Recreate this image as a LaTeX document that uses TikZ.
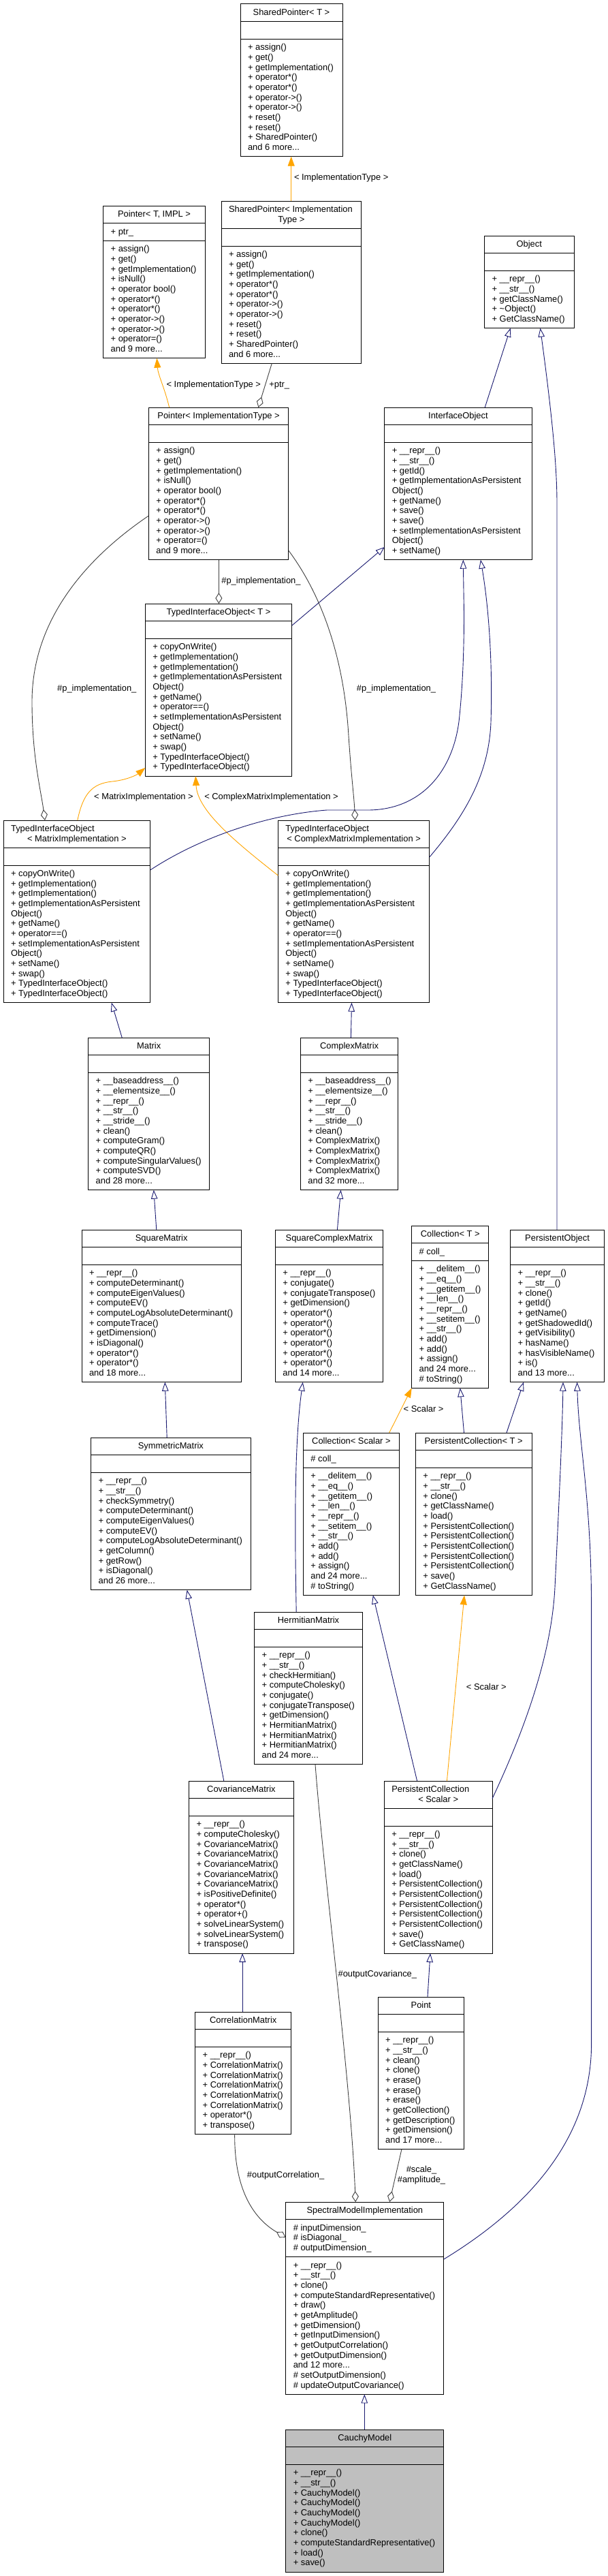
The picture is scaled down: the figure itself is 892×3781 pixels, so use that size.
\documentclass[tikz,border=0pt]{standalone}
\usepackage{fontspec}
\setmainfont{Liberation Sans}
\usetikzlibrary{arrows.meta,calc}
\definecolor{inhblue}{HTML}{191970}
\definecolor{tmplorange}{HTML}{FFA500}
\definecolor{agggray}{HTML}{404040}
\definecolor{hlgray}{HTML}{BFBFBF}
\newcommand{\dxfont}{\fontsize{12.9}{14.67}\selectfont}
\newcommand{\threedots}{...}
\def\bxfill{white}
\tikzset{
  txt/.style={inner sep=0pt, outer sep=0pt, font=\dxfont},
  lbl/.style={txt, anchor=base west},
  box/.style={draw=black, line width=1pt, inner sep=0pt, outer sep=0pt, anchor=north west},
  divl/.style={draw=black, line width=1pt},
  inh/.style={draw=inhblue, line width=0.9pt, -{Triangle[open, length=13pt, width=9.5pt]}},
  tmpl/.style={draw=tmplorange, line width=0.9pt, -{Triangle[length=14pt, width=10pt]}},
  agg/.style={draw=agggray, line width=0.9pt, -{Diamond[open, length=16pt, width=10pt]}},
}
% #1 name, #2 x, #3 top, #4 width, #5 title lines, #6 n attr, #7 attrs, #8 n meth, #9 meths
\newcommand{\umlbox}[9]{%
  \def\tcount{0}%
  \foreach \itm [count=\cnt] in {#5} {\xdef\tcount{\cnt}}%
  \pgfmathsetmacro{\bxT}{\tcount*14.67+11}%
  \pgfmathsetmacro{\bxA}{max(#6,1)*14.67+11}%
  \pgfmathsetmacro{\bxM}{max(#8,1)*14.67+11}%
  \pgfmathsetmacro{\bxH}{\bxT+\bxA+\bxM}%
  \node[box, fill=\bxfill, minimum width=#4pt, minimum height=\bxH pt] (#1) at (#2,#3) {};
  \draw[divl] ($(#1.north west)+(0,\bxT)$) -- ($(#1.north east)+(0,\bxT)$);
  \draw[divl] ($(#1.north west)+(0,{\bxT+\bxA})$) -- ($(#1.north east)+(0,{\bxT+\bxA})$);
  \foreach \itm [count=\cnt] in {#5} {%
    \ifnum\cnt=1\relax
      \ifnum\tcount=1\relax
        \node[txt, anchor=base] (#1-t\cnt) at ($(#1.north)+(0,16.5)$) {\itm};
      \else
        \node[txt, anchor=base west] (#1-t\cnt) at ($(#1.north west)+(11,16.5)$) {\itm};
      \fi
    \else
      \node[txt, anchor=base] (#1-t\cnt) at ($(#1.north)+(0,{16.5+(\cnt-1)*14.67})$) {\itm};
    \fi
  }
  \ifnum#6>0\relax
    \foreach \itm [count=\cnt] in {#7} {%
      \node[txt, anchor=base west] (#1-a\cnt) at ($(#1.north west)+(11,{\bxT+16.5+(\cnt-1)*14.67})$) {\itm};
    }
  \fi
  \foreach \itm [count=\cnt] in {#9} {%
    \node[txt, anchor=base west] (#1-m\cnt) at ($(#1.north west)+(11,{\bxT+\bxA+16.5+(\cnt-1)*14.67})$) {\itm};
  }
}
\begin{document}
\begin{tikzpicture}[x=1pt,y=-1pt]
\fill[white] (0,0) rectangle (892,3781);
\useasboundingbox (0,0) rectangle (892,3781);

\umlbox{spT}{353}{6}{150}{SharedPointer< T >}{0}{}{11}{+ assign(),+ get(),+ getImplementation(),+ operator*(),+ operator*(),+ operator->(),+ operator->(),+ reset(),+ reset(),+ SharedPointer(),and 6 more\threedots}
\umlbox{spI}{325}{295}{205.7}{SharedPointer< Implementation,Type >}{0}{}{11}{+ assign(),+ get(),+ getImplementation(),+ operator*(),+ operator*(),+ operator->(),+ operator->(),+ reset(),+ reset(),+ SharedPointer(),and 6 more\threedots}
\umlbox{pTI}{151.7}{302}{149.6}{{Pointer< T, IMPL >}}{1}{+ ptr\_}{11}{+ assign(),+ get(),+ getImplementation(),+ isNull(),+ operator bool(),+ operator*(),+ operator*(),+ operator->(),+ operator->(),+ operator=(),and 9 more\threedots}
\umlbox{obj}{711.6}{346}{131.4}{Object}{0}{}{5}{+ \_\_repr\_\_(),+ \_\_str\_\_(),+ getClassName(),+ \textasciitilde Object(),+ GetClassName()}
\umlbox{pI}{218.4}{598}{205.4}{Pointer< ImplementationType >}{0}{}{11}{+ assign(),+ get(),+ getImplementation(),+ isNull(),+ operator bool(),+ operator*(),+ operator*(),+ operator->(),+ operator->(),+ operator=(),and 9 more\threedots}
\umlbox{iobj}{564.8}{598}{216.2}{InterfaceObject}{0}{}{11}{+ \_\_repr\_\_(),+ \_\_str\_\_(),+ getId(),+ getImplementationAsPersistent,Object(),+ getName(),+ save(),+ save(),+ setImplementationAsPersistent,Object(),+ setName()}
\umlbox{tioT}{213.3}{886}{215.6}{TypedInterfaceObject< T >}{0}{}{13}{+ copyOnWrite(),+ getImplementation(),+ getImplementation(),+ getImplementationAsPersistent,Object(),+ getName(),+ operator==(),+ setImplementationAsPersistent,Object(),+ setName(),+ swap(),+ TypedInterfaceObject(),+ TypedInterfaceObject()}
\umlbox{tioM}{5.1}{1204}{215.6}{TypedInterfaceObject,< MatrixImplementation >}{0}{}{13}{+ copyOnWrite(),+ getImplementation(),+ getImplementation(),+ getImplementationAsPersistent,Object(),+ getName(),+ operator==(),+ setImplementationAsPersistent,Object(),+ setName(),+ swap(),+ TypedInterfaceObject(),+ TypedInterfaceObject()}
\umlbox{tioC}{408.4}{1204}{222.4}{TypedInterfaceObject,< ComplexMatrixImplementation >}{0}{}{13}{+ copyOnWrite(),+ getImplementation(),+ getImplementation(),+ getImplementationAsPersistent,Object(),+ getName(),+ operator==(),+ setImplementationAsPersistent,Object(),+ setName(),+ swap(),+ TypedInterfaceObject(),+ TypedInterfaceObject()}
\umlbox{matrix}{129.7}{1523}{178}{Matrix}{0}{}{11}{+ \_\_baseaddress\_\_(),+ \_\_elementsize\_\_(),+ \_\_repr\_\_(),+ \_\_str\_\_(),+ \_\_stride\_\_(),+ clean(),+ computeGram(),+ computeQR(),+ computeSingularValues(),+ computeSVD(),and 28 more\threedots}
\umlbox{cm}{441.4}{1523}{143.4}{ComplexMatrix}{0}{}{11}{+ \_\_baseaddress\_\_(),+ \_\_elementsize\_\_(),+ \_\_repr\_\_(),+ \_\_str\_\_(),+ \_\_stride\_\_(),+ clean(),+ ComplexMatrix(),+ ComplexMatrix(),+ ComplexMatrix(),+ ComplexMatrix(),and 32 more\threedots}
\umlbox{sqm}{120}{1805}{234.4}{SquareMatrix}{0}{}{11}{+ \_\_repr\_\_(),+ computeDeterminant(),+ computeEigenValues(),+ computeEV(),+ computeLogAbsoluteDeterminant(),+ computeTrace(),+ getDimension(),+ isDiagonal(),+ operator*(),+ operator*(),and 18 more\threedots}
\umlbox{scm}{404.4}{1805}{158.2}{SquareComplexMatrix}{0}{}{11}{+ \_\_repr\_\_(),+ conjugate(),+ conjugateTranspose(),+ getDimension(),+ operator*(),+ operator*(),+ operator*(),+ operator*(),+ operator*(),+ operator*(),and 14 more\threedots}
\umlbox{collT}{604.7}{1799}{113.2}{Collection< T >}{1}{\# coll\_}{12}{+ \_\_delitem\_\_(),+ \_\_eq\_\_(),+ \_\_getitem\_\_(),+ \_\_len\_\_(),+ \_\_repr\_\_(),+ \_\_setitem\_\_(),+ \_\_str\_\_(),+ add(),+ add(),+ assign(),and 24 more\threedots,\# toString()}
\umlbox{po}{749.7}{1805}{137.7}{PersistentObject}{0}{}{11}{+ \_\_repr\_\_(),+ \_\_str\_\_(),+ clone(),+ getId(),+ getName(),+ getShadowedId(),+ getVisibility(),+ hasName(),+ hasVisibleName(),+ is(),and 13 more\threedots}
\umlbox{symm}{133.7}{2110}{234.3}{SymmetricMatrix}{0}{}{11}{+ \_\_repr\_\_(),+ \_\_str\_\_(),+ checkSymmetry(),+ computeDeterminant(),+ computeEigenValues(),+ computeEV(),+ computeLogAbsoluteDeterminant(),+ getColumn(),+ getRow(),+ isDiagonal(),and 26 more\threedots}
\umlbox{collS}{445.4}{2103}{141.1}{Collection< Scalar >}{1}{\# coll\_}{12}{+ \_\_delitem\_\_(),+ \_\_eq\_\_(),+ \_\_getitem\_\_(),+ \_\_len\_\_(),+ \_\_repr\_\_(),+ \_\_setitem\_\_(),+ \_\_str\_\_(),+ add(),+ add(),+ assign(),and 24 more\threedots,\# toString()}
\umlbox{pcT}{610.4}{2103}{170.6}{PersistentCollection< T >}{0}{}{12}{+ \_\_repr\_\_(),+ \_\_str\_\_(),+ clone(),+ getClassName(),+ load(),+ PersistentCollection(),+ PersistentCollection(),+ PersistentCollection(),+ PersistentCollection(),+ PersistentCollection(),+ save(),+ GetClassName()}
\umlbox{herm}{373.7}{2366}{158.7}{HermitianMatrix}{0}{}{11}{+ \_\_repr\_\_(),+ \_\_str\_\_(),+ checkHermitian(),+ computeCholesky(),+ conjugate(),+ conjugateTranspose(),+ getDimension(),+ HermitianMatrix(),+ HermitianMatrix(),+ HermitianMatrix(),and 24 more\threedots}
\umlbox{covm}{277.6}{2614}{153.6}{CovarianceMatrix}{0}{}{13}{+ \_\_repr\_\_(),+ computeCholesky(),+ CovarianceMatrix(),+ CovarianceMatrix(),+ CovarianceMatrix(),+ CovarianceMatrix(),+ CovarianceMatrix(),+ isPositiveDefinite(),+ operator*(),+ operator+(),+ solveLinearSystem(),+ solveLinearSystem(),+ transpose()}
\umlbox{pcS}{564.3}{2614}{158.7}{PersistentCollection,< Scalar >}{0}{}{12}{+ \_\_repr\_\_(),+ \_\_str\_\_(),+ clone(),+ getClassName(),+ load(),+ PersistentCollection(),+ PersistentCollection(),+ PersistentCollection(),+ PersistentCollection(),+ PersistentCollection(),+ save(),+ GetClassName()}
\umlbox{corr}{286.7}{2953}{141.1}{CorrelationMatrix}{0}{}{8}{+ \_\_repr\_\_(),+ CorrelationMatrix(),+ CorrelationMatrix(),+ CorrelationMatrix(),+ CorrelationMatrix(),+ CorrelationMatrix(),+ operator*(),+ transpose()}
\umlbox{point}{555.2}{2931}{126.3}{Point}{0}{}{11}{+ \_\_repr\_\_(),+ \_\_str\_\_(),+ clean(),+ clone(),+ erase(),+ erase(),+ erase(),+ getCollection(),+ getDescription(),+ getDimension(),and 17 more\threedots}
\umlbox{smi}{419.8}{3232}{232.1}{SpectralModelImplementation}{3}{\# inputDimension\_,\# isDiagonal\_,\# outputDimension\_}{13}{+ \_\_repr\_\_(),+ \_\_str\_\_(),+ clone(),+ computeStandardRepresentative(),+ draw(),+ getAmplitude(),+ getDimension(),+ getInputDimension(),+ getOutputCorrelation(),+ getOutputDimension(),and 12 more\threedots,\# setOutputDimension(),\# updateOutputCovariance()}
\def\bxfill{hlgray}
\umlbox{cauchy}{419.8}{3566}{232.1}{CauchyModel}{0}{}{10}{+ \_\_repr\_\_(),+ \_\_str\_\_(),+ CauchyModel(),+ CauchyModel(),+ CauchyModel(),+ CauchyModel(),+ clone(),+ computeStandardRepresentative(),+ load(),+ save()}

% connectors
\draw[tmpl] (spI.north -| 427.7,0) -- (spT.south -| 427.7,0);
\node[lbl] (l1) at (432,264.7) {< ImplementationType >};

\draw[tmpl] (pI.north -| 248.6,0) .. controls (242,570) and (232,550) .. (pTI.south -| 230.4,0);
\node[lbl] (l2) at (244.6,568.7) {< ImplementationType >};

\draw[agg] (spI.south -| 399.3,0) -- (pI.north -| 379.4,0);
\node[lbl] (l3) at (395.3,568.7) {+ptr\_};

\draw[inh] (iobj.north -| 712.2,0) -- (obj.south -| 749.7,0);
\draw[inh] (po.north -| 818,0) -- (818,740) .. controls (818,700) and (815,640) .. (obj.south -| 793.5,0);

\draw[agg] (pI.south -| 321.4,0) -- (tioT.north -| 321.4,0);
\node[lbl] (l6) at (325.4,856.7) {\#p\_implementation\_};

\draw[inh] (tioT.east |- 0,918) -- (iobj.west |- 0,803);

\draw[agg] (pI.west |- 0,757) .. controls (140,810) and (47,900) .. (47,1030) .. controls (47,1110) and (60,1160) .. (tioM.north -| 66,0);
\node[lbl] (l8) at (84.2,1014.7) {\#p\_implementation\_};

\draw[agg] (pI.east |- 0,808) .. controls (470,870) and (505,960) .. (512,1080) .. controls (516,1140) and (520,1170) .. (tioC.north -| 521.6,0);
\node[lbl] (l9) at (523.9,1014.7) {\#p\_implementation\_};

\draw[tmpl] (tioM.north -| 113.8,0) .. controls (122,1165) and (135,1150) .. (165,1147) .. controls (185,1145) and (200,1138) .. (tioT.west |- 0,1127);
\node[lbl] (l10) at (138.2,1173.7) {< MatrixImplementation >};

\draw[tmpl] (tioC.west |- 0,1285) .. controls (345,1235) and (290,1190) .. (tioT.south -| 287.3,0);
\node[lbl] (l11) at (300.3,1173.7) {< ComplexMatrixImplementation >};

\draw[inh] (tioM.east |- 0,1277) .. controls (300,1225) and (400,1195) .. (480,1189) -- (540,1189) .. controls (620,1189) and (668,1130) .. (675,1050) .. controls (680,1000) and (681.5,950) .. (681.5,900) -- (iobj.south -| 680.3,0);
\draw[inh] (tioC.east |- 0,1258) .. controls (680,1200) and (718,1140) .. (721,1060) .. controls (724,960) and (716,880) .. (iobj.south -| 705.9,0);

\draw[inh] (matrix.north -| 179.2,0) -- (tioM.south -| 163.8,0);
\draw[inh] (cm.north -| 515.4,0) -- (tioC.south -| 516.5,0);
\draw[inh] (sqm.north -| 229.8,0) -- (matrix.south -| 225.8,0);
\draw[inh] (scm.north -| 495.4,0) -- (cm.south -| 500.6,0);
\draw[inh] (symm.north -| 245.2,0) -- (sqm.south -| 242.3,0);

\draw[tmpl] (collS.north -| 571.7,0) -- (collT.south west);
\node[lbl] (l19) at (592.7,2072.7) {< Scalar >};

\draw[inh] (pcT.north -| 681.5,0) -- (collT.south -| 675.8,0);
\draw[inh] (pcT.north -| 744,0) -- (po.south -| 769,0);

\draw[inh] (herm.north -| 435.2,0) .. controls (433,2250) and (432,2120) .. (scm.south -| 444.8,0);
\draw[inh] (covm.north -| 328.8,0) -- (symm.south -| 274.7,0);
\draw[inh] (pcS.north -| 612.6,0) -- (collS.south -| 547.8,0);
\draw[tmpl] (pcS.north -| 656.4,0) -- (pcT.south -| 682,0);
\node[lbl] (l25) at (684.9,2480.4) {< Scalar >};

\draw[inh] (pcS.east |- 0,2640) .. controls (770,2540) and (810,2430) .. (815,2330) .. controls (820,2230) and (826,2100) .. (po.south -| 827,0);
\draw[inh] (smi.east |- 0,3316) .. controls (760,3250) and (868.6,3150) .. (868.6,3000) -- (868.6,2360) .. controls (868.6,2200) and (850,2120) .. (po.south -| 847.6,0);

\draw[inh] (corr.north -| 356.1,0) -- (covm.south -| 356.1,0);
\draw[inh] (point.north -| 628,0) -- (pcS.south -| 632,0);

\draw[agg] (herm.south -| 463,0) .. controls (475,2750) and (515,3050) .. (smi.north -| 522.2,0);
\node[lbl] (l30) at (496.6,2901.7) {\#outputCovariance\_};

\draw[agg] (corr.south -| 344.7,0) .. controls (344,3210) and (370,3255) .. (smi.west |- 0,3284);
\node[lbl] (l31) at (362.9,3196.4) {\#outputCorrelation\_};

\draw[agg] (point.south -| 589.9,0) -- (smi.north -| 572.2,0);
\node[txt, align=center] (l32) at (619,3192.5) {\#scale\_\\\#amplitude\_};

\draw[inh] (cauchy.north -| 535.3,0) -- (smi.south -| 535.3,0);
\end{tikzpicture}
\end{document}
